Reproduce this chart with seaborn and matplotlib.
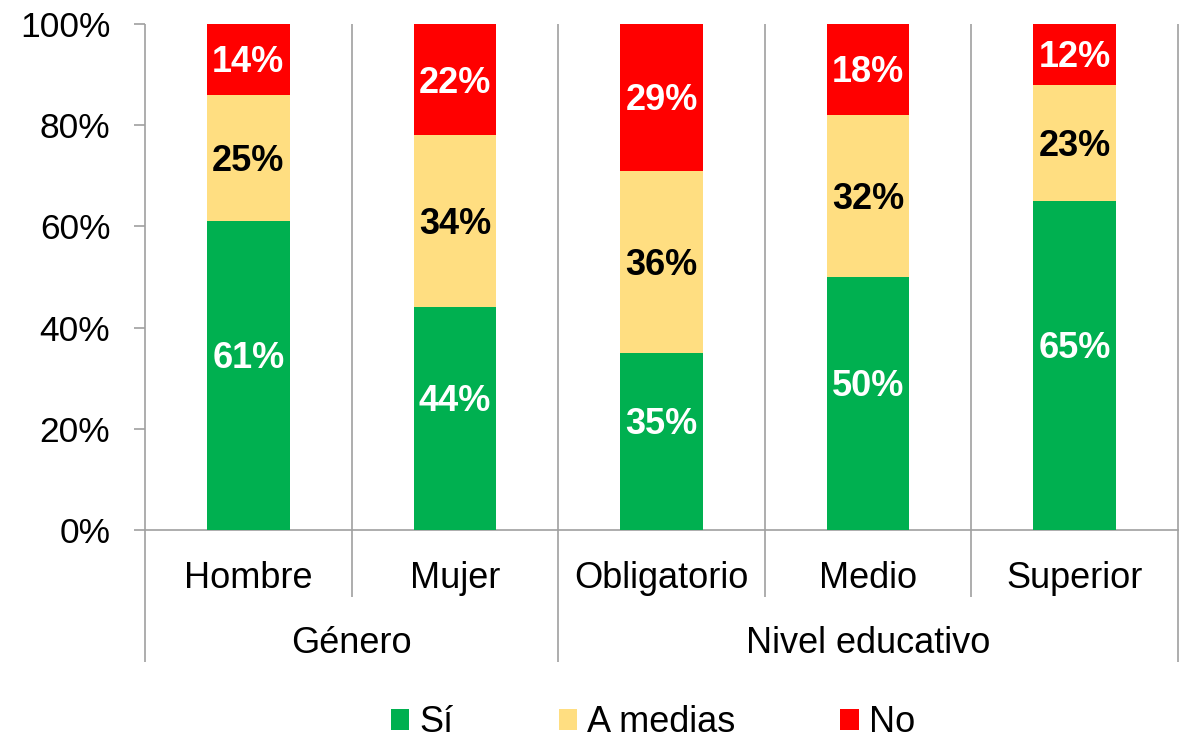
import matplotlib
matplotlib.use("Agg")
import matplotlib.pyplot as plt
import matplotlib.transforms as mtransforms
from matplotlib.patches import Patch
import pandas as pd
import seaborn as sns

# ---- data ----
categories = ["Hombre", "Mujer", "Obligatorio", "Medio", "Superior"]
groups = ["Género", "Nivel educativo"]
group_sizes = [2, 3]
si = [61, 44, 35, 50, 65]
a_medias = [25, 34, 36, 32, 23]
no = [14, 22, 29, 18, 12]
series_names = ["Sí", "A medias", "No"]
yticks = [0, 20, 40, 60, 80, 100]

colors = {"Sí": "#00B050", "A medias": "#FFDE81", "No": "#FF0000"}
gray = "#A0A0A0"

sns.set_style("white")
plt.rcParams["font.family"] = ["Liberation Sans", "DejaVu Sans"]
plt.rcParams["text.color"] = "black"
plt.rcParams["axes.labelcolor"] = "black"
plt.rcParams["xtick.color"] = "black"
plt.rcParams["ytick.color"] = "black"

W, H = 1182, 739
fig = plt.figure(figsize=(W / 100, H / 100), dpi=100)
L, R, T, B = 145, 1178, 24, 530
ax = fig.add_axes([L / W, 1 - B / H, (R - L) / W, (B - T) / H])

df = pd.DataFrame({"cat": categories, "si": si, "med": a_medias, "no": no})
df["top_med"] = df["si"] + df["med"]
df["top_no"] = df["top_med"] + df["no"]

for col, name in [("top_no", "No"), ("top_med", "A medias"), ("si", "Sí")]:
    sns.barplot(data=df, x="cat", y=col, order=categories, color=colors[name],
                saturation=1, width=0.4, linewidth=0, ax=ax, zorder=3)

ax.set_xlim(-0.5, len(categories) - 0.5)
ax.set_ylim(0, 100)
ax.set_yticks(yticks)
ax.set_yticklabels([f"{v}%" for v in yticks])
ax.set_xticks([])
ax.set_xlabel("")
ax.set_ylabel("")
for s in ["top", "right", "left"]:
    ax.spines[s].set_visible(False)
ax.spines["bottom"].set_color(gray)
ax.spines["bottom"].set_linewidth(1.2)
ax.tick_params(axis="y", length=8, width=1.2, color=gray, pad=17,
               labelsize=25.5, labelcolor="black", left=True)

# data labels
cap_off = -0.716 * 26 / 2
for i in range(len(categories)):
    s, m, n = si[i], a_medias[i], no[i]
    ax.annotate(f"{s}%", (i, s / 2 + 4), xytext=(0, cap_off), textcoords="offset points",
                ha="center", va="baseline", fontsize=26, fontweight="bold", color="white", zorder=5)
    ax.annotate(f"{m}%", (i, s + m / 2), xytext=(0, cap_off), textcoords="offset points",
                ha="center", va="baseline", fontsize=26, fontweight="bold", color="black", zorder=5)
    ax.annotate(f"{n}%", (i, s + m + n / 2), xytext=(0, cap_off), textcoords="offset points",
                ha="center", va="baseline", fontsize=26, fontweight="bold", color="white", zorder=5)

# separators and axis labels
trans = mtransforms.blended_transform_factory(ax.transData, ax.transAxes)
y_cat = (B - 597) / (B - T)
y_grp = (B - 662) / (B - T)
group_edges = [-0.5]
acc = -0.5
for g in group_sizes:
    acc += g
    group_edges.append(acc)
for k in range(len(categories) + 1):
    x = k - 0.5
    yb = y_grp if x in group_edges else y_cat
    ax.plot([x, x], [1, yb], transform=trans, color=gray, lw=1.2,
            clip_on=False, zorder=1, solid_capstyle="butt")

y_cat_txt = (B - 588) / (B - T)
y_grp_txt = (B - 653) / (B - T)
for i, c in enumerate(categories):
    ax.text(i, y_cat_txt, c, transform=trans, ha="center", va="baseline",
            fontsize=26, color="black")
start = 0
for g, size in zip(groups, group_sizes):
    ax.text(start + (size - 1) / 2, y_grp_txt, g, transform=trans,
            ha="center", va="baseline", fontsize=26, color="black")
    start += size

handles = [Patch(facecolor=colors[n], edgecolor="none", label=n) for n in series_names]
leg = ax.legend(handles=handles, loc="center", bbox_to_anchor=(0.492, -0.381), ncol=3,
                frameon=False, fontsize=26, handlelength=0.5, handleheight=0.5,
                handletextpad=0.3, columnspacing=2.9, borderaxespad=0, borderpad=0)
for t in leg.get_texts():
    t.set_color("black")

fig.savefig("out.png", dpi=100)
